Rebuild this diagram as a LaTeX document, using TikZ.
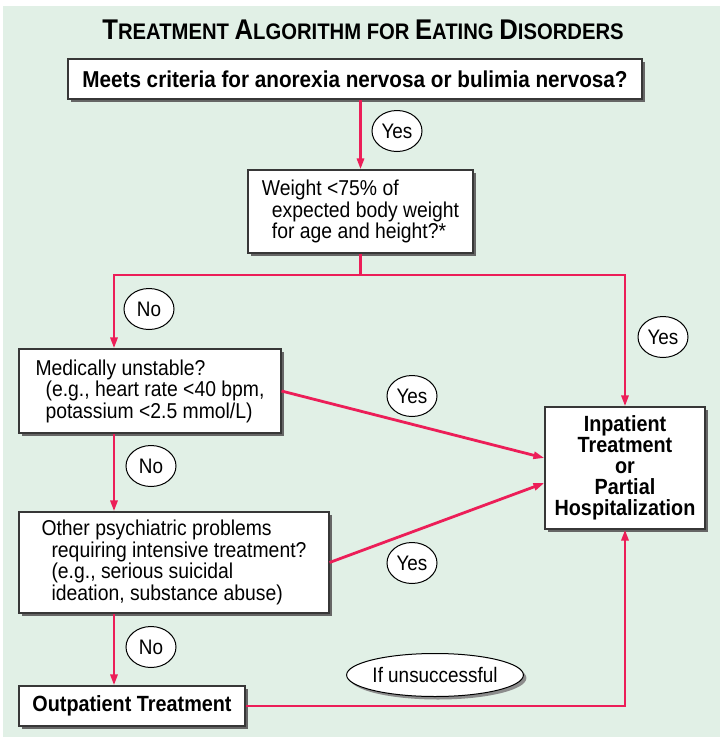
\documentclass[tikz,border=0pt]{standalone}
\usepackage{fontspec}
\setmainfont{Liberation Sans}[FakeStretch=0.9]
\usepackage{xcolor}
\usetikzlibrary{positioning,arrows.meta,shapes.geometric,shadows}
\definecolor{bggreen}{RGB}{225,240,230}
\definecolor{flowred}{RGB}{236,30,88}
\definecolor{boxgray}{RGB}{55,55,55}
\newcommand{\ind}{\hspace*{10pt}}
\newcommand{\initcap}[1]{{\fontsize{28.5}{28}\selectfont #1}}

\begin{document}
\begin{tikzpicture}[
  x=1pt, y=-1pt,
  box/.style={draw=boxgray, line width=1.1pt, fill=white, inner sep=0pt,
              font=\fontsize{21.5}{21.5}\selectfont,
              drop shadow={shadow xshift=3pt, shadow yshift=-3pt, fill=black!60, opacity=1}},
  qbox/.style={box, align=left},
  act/.style={box, align=center, font=\bfseries\fontsize{22}{21}\selectfont},
  lab/.style={ellipse, draw=black, line width=1pt, fill=white, inner sep=0pt,
              minimum width=50pt, minimum height=41pt, font=\fontsize{21}{20}\selectfont},
  heading/.style={anchor=base, font=\bfseries\fontsize{22.5}{22}\selectfont},
  ln/.style={flowred, line width=2.8pt},
  arr/.style={ln, -{Triangle[length=11pt,width=7pt]}}
]
\useasboundingbox (0,0) rectangle (720,737);
\fill[bggreen] (3,6) rectangle (720,737);
\node[heading] (title) at (363,39) {\initcap{T}REATMENT \initcap{A}LGORITHM FOR \initcap{E}ATING \initcap{D}ISORDERS};
% decision boxes
\node[act, font=\bfseries\fontsize{23}{21}\selectfont, minimum width=574pt, minimum height=40pt] (crit) at (355,79) {Meets criteria for anorexia nervosa or bulimia nervosa?};
\node[qbox, minimum width=225pt, minimum height=83pt] (weight) at (360.5,211.5) {Weight <75\% of\\ \ind expected body weight\\ \ind for age and height?*};
\node[qbox, minimum width=262pt, minimum height=84pt] (med) at (150,391) {Medically unstable?\\ \ind (e.g., heart rate <40 bpm,\\ \ind potassium <2.5 mmol/L)};
\node[qbox, minimum width=310pt, minimum height=101pt] (other) at (174,562.5) {Other psychiatric problems\\ \ind requiring intensive treatment?\\ \ind (e.g., serious suicidal\\ \ind ideation, substance abuse)};
\node[act, minimum width=160pt, minimum height=122pt] (inpat) at (625,468) {Inpatient\\ Treatment\\ or\\ Partial\\ Hospitalization};
\node[act, minimum width=226pt, minimum height=40pt] (outp) at (132,706) {Outpatient Treatment};
% connectors
\coordinate (split) at (weight.south |- 0,275);
\coordinate (col) at ([xshift=-36pt]med.north);
\draw[arr] (crit.south -| weight.north) -- (weight.north);
\draw[ln] (weight.south) -- (split);
\draw[arr] (split) -| (col);
\draw[arr] (split) -| (inpat.north);
\foreach \a/\b in {med/other, other/outp}
  \draw[arr] (col |- \a.south) -- (col |- \b.north);
\draw[arr] (med.east) -- ([yshift=10pt]inpat.west);
\draw[arr] (other.east) -- ([yshift=-15pt]inpat.west);
\draw[arr] (outp.east) -| (inpat.south);
% answers
\node[lab] (yes1) at (397,131) {Yes};
\node[lab] (no1) at (149,309) {No};
\node[lab] (yes2) at (663,337) {Yes};
\node[lab] (yes3) at (412,396) {Yes};
\node[lab] (no2) at (151,466) {No};
\node[lab] (yes4) at (412,563) {Yes};
\node[lab] (no3) at (151,647) {No};
\node[lab, minimum width=168pt, minimum height=43pt,
      drop shadow={shadow xshift=3pt, shadow yshift=-3pt, fill=black!45, opacity=1}] (fail) at (435,675) {If unsuccessful};
\end{tikzpicture}
\end{document}
